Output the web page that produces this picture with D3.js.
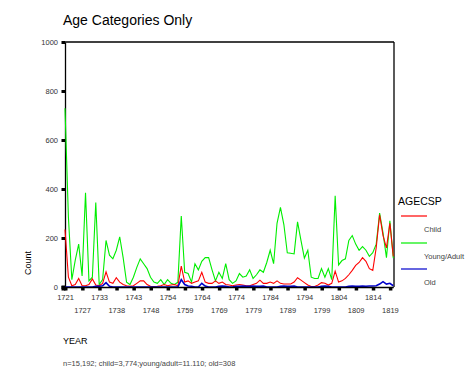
<!DOCTYPE html>
<html>
<head>
<meta charset="utf-8">
<script src="https://cdn.jsdelivr.net/npm/d3@7"></script>
<style>
html, body { margin: 0; padding: 0; background: #fff; }
svg { display: block; font-family: "Liberation Sans", Arial, sans-serif; }
</style>
</head>
<body>
<svg id="chart" width="474" height="379"></svg>
<script>
// ---- data ----
const years = [1721, 1723, 1724, 1725, 1726, 1727, 1729, 1730, 1731, 1732,
  1733, 1734, 1735, 1736, 1737, 1738, 1739, 1740, 1741, 1742,
  1743, 1744, 1745, 1746, 1747, 1748, 1750, 1751, 1752, 1753,
  1754, 1755, 1756, 1757, 1758, 1759, 1760, 1761, 1762, 1763,
  1764, 1765, 1766, 1767, 1768, 1769, 1770, 1771, 1772, 1773,
  1774, 1775, 1776, 1777, 1778, 1779, 1780, 1781, 1782, 1783,
  1784, 1785, 1786, 1787, 1788, 1789, 1790, 1791, 1792, 1793,
  1794, 1795, 1796, 1797, 1798, 1799, 1800, 1801, 1802, 1803,
  1804, 1805, 1806, 1807, 1808, 1809, 1810, 1811, 1812, 1813,
  1814, 1815, 1816, 1817, 1818, 1819, 1820];

const child = [235, 40, 5, 10, 35, 5, 5, 10, 33, 8,
  5, 15, 62, 20, 15, 38, 20, 10, 5, 3,
  5, 15, 25, 25, 10, 3, 2, 3, 5, 10,
  5, 8, 10, 5, 85, 20, 25, 15, 20, 25,
  60, 20, 15, 15, 25, 15, 20, 10, 8, 5,
  8, 10, 8, 5, 5, 10, 15, 28, 15, 15,
  20, 15, 25, 15, 12, 12, 12, 20, 38, 28,
  18, 8, 2, 2, 8, 18, 15, 8, 15, 65,
  20, 25, 35, 50, 68, 88, 100, 120, 105, 75,
  68, 160, 295, 210, 160, 260, 125];

const youngAdult = [730, 285, 30, 110, 175, 45, 385, 25, 40, 345,
  10, 30, 190, 130, 115, 150, 205, 120, 20, 10,
  40, 80, 115, 95, 75, 40, 20, 15, 30, 10,
  30, 15, 10, 20, 290, 60, 55, 20, 95, 70,
  105, 120, 120, 70, 25, 60, 35, 95, 30, 15,
  25, 55, 40, 45, 70, 35, 50, 70, 60, 100,
  150, 95, 260, 325, 255, 140, 138, 135, 266, 190,
  118, 150, 40, 35, 35, 75, 40, 75, 30, 372,
  90, 108, 115, 190, 210, 175, 150, 165, 150, 125,
  140, 175, 302, 220, 120, 270, 118];

const old = [0, 0, 0, 0, 0, 0, 0, 0, 0, 3,
  3, 5, 18, 3, 0, 0, 0, 0, 0, 0,
  0, 0, 0, 0, 0, 0, 0, 0, 0, 0,
  0, 0, 0, 0, 30, 10, 4, 3, 0, 0,
  15, 4, 0, 0, 0, 3, 4, 3, 0, 0,
  3, 3, 4, 3, 3, 4, 3, 3, 4, 0,
  0, 0, 0, 3, 4, 3, 3, 4, 0, 0,
  0, 0, 0, 0, 0, 3, 4, 3, 0, 0,
  0, 0, 0, 3, 4, 3, 3, 4, 3, 4,
  4, 5, 12, 22, 12, 15, 5];

const yTicks = [0, 200, 400, 600, 800, 1000];
const xTickLabels = [1721, 1727, 1733, 1738, 1743, 1748, 1754, 1759, 1764, 1769,
  1774, 1779, 1784, 1789, 1794, 1799, 1804, 1809, 1814, 1819];

const seriesNames = ["Child", "Young/Adult", "Old"];
const seriesColors = ["#ff0000", "#00ee00", "#0000cc"];

// ---- layout ----
(function () {
const svg = d3.select("#chart");
const pL = 65, pR = 394, pT = 42, pB = 287;

const x = d3.scalePoint().domain(years).range([65, 393.3]);
const y = d3.scaleLinear().domain([0, 1000]).range([pB, pT]);

// title
svg.append("text").attr("x", 63).attr("y", 25)
  .attr("font-size", 14).attr("fill", "#000").text("Age Categories Only");

// frame top & right
svg.append("line").attr("x1", pL).attr("x2", pR).attr("y1", pT).attr("y2", pT)
  .attr("stroke", "#000").attr("stroke-width", 1.3);
svg.append("line").attr("x1", pR).attr("x2", pR).attr("y1", pT).attr("y2", pB)
  .attr("stroke", "#000").attr("stroke-width", 1.3);

// y axis
const yAxis = svg.append("g").attr("transform", `translate(${pL},0)`)
  .call(d3.axisLeft(y).tickValues(yTicks).tickSize(0).tickPadding(7).tickFormat(d3.format("d")));
yAxis.select(".domain").attr("stroke", "#000").attr("stroke-width", 1.3);
yAxis.selectAll("text").attr("font-size", 7.5).attr("fill", "#333")
  .attr("font-family", "Liberation Sans, Arial, sans-serif");
yAxis.selectAll(".tick").append("rect")
  .attr("x", -3.5).attr("y", -1.5).attr("width", 3.5).attr("height", 3).attr("fill", "#000");

// lines
const series = [youngAdult, child, old];
const cols = ["#00ee00", "#ff0000", "#0000cc"];
series.forEach((vals, k) => {
  const line = d3.line().x((d, i) => x(years[i])).y(d => y(d));
  svg.append("path").datum(vals)
    .attr("d", line).attr("fill", "none")
    .attr("stroke", cols[k]).attr("stroke-width", k === 2 ? 1.6 : 1.1);
});

// x axis
const xAxis = svg.append("g").attr("transform", `translate(0,${pB})`)
  .call(d3.axisBottom(x).tickValues(xTickLabels).tickSize(0).tickPadding(0));
xAxis.select(".domain").attr("stroke", "#000").attr("stroke-width", 1.3);
xAxis.selectAll(".tick text")
  .attr("font-size", 7.5).attr("fill", "#333")
  .attr("font-family", "Liberation Sans, Arial, sans-serif")
  .attr("dy", null)
  .attr("y", (d, i) => i % 2 === 0 ? 12.5 : 25.5);
xAxis.selectAll(".tick").append("rect")
  .attr("x", -1.5).attr("y", 0).attr("width", 3.5).attr("height", 3.5).attr("fill", "#000");
svg.append("rect").attr("x", pL - 3.5).attr("y", pB - 1.5).attr("width", 4).attr("height", 5).attr("fill", "#000");

// axis titles
svg.append("text").attr("transform", "translate(31,263) rotate(-90)")
  .attr("text-anchor", "middle").attr("font-size", 9).attr("fill", "#000").text("Count");
svg.append("text").attr("x", 63).attr("y", 344)
  .attr("font-size", 9).attr("fill", "#000").text("YEAR");

// footnote
svg.append("text").attr("x", 63).attr("y", 366)
  .attr("font-size", 7.5).attr("fill", "#444")
  .text("n=15,192; child=3,774;young/adult=11.110; old=308");

// legend
svg.append("text").attr("x", 398).attr("y", 205)
  .attr("font-size", 10.5).attr("fill", "#000").text("AGECSP");
const legY = [216, 243, 269];
seriesNames.forEach((name, k) => {
  svg.append("line").attr("x1", 401).attr("x2", 427).attr("y1", legY[k]).attr("y2", legY[k])
    .attr("stroke", seriesColors[k]).attr("stroke-width", 1.2);
  svg.append("text").attr("x", 424).attr("y", legY[k] + 16)
    .attr("font-size", 7.5).attr("fill", "#444")
    .attr("textLength", name === "Young/Adult" ? 40 : null)
    .text(name);
});
})();
</script>
</body>
</html>
